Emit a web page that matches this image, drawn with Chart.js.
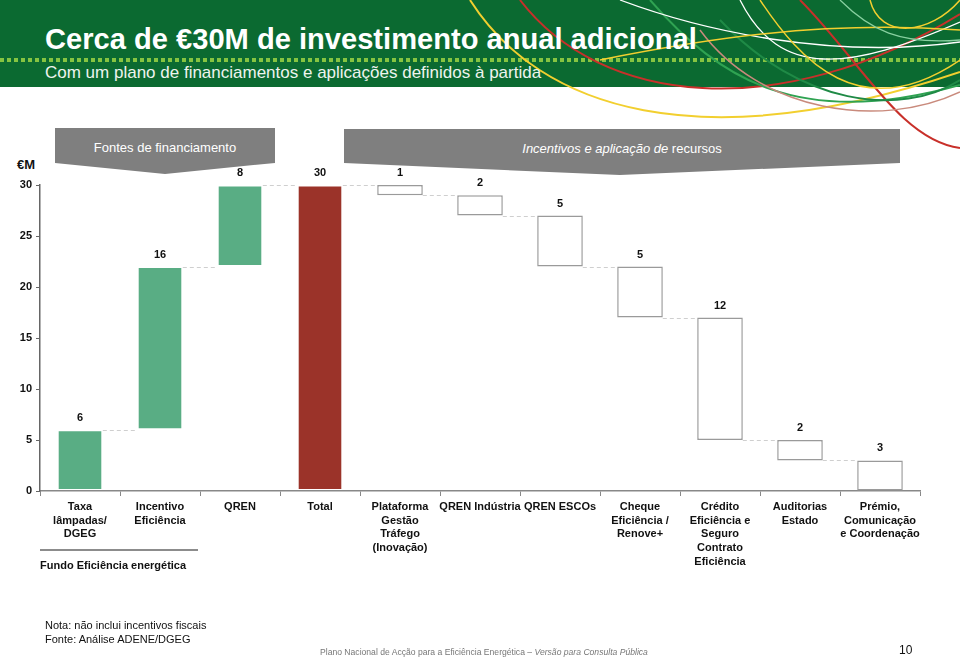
<!DOCTYPE html>
<html>
<head>
<meta charset="utf-8">
<script src="https://cdn.jsdelivr.net/npm/chart.js@4"></script>
<style>
  html, body { margin: 0; padding: 0; background: #fff; }
  body { width: 960px; height: 659px; position: relative; overflow: hidden; font-family: "Liberation Sans", Arial, sans-serif; }
  #header { position: absolute; left: 0; top: 0; width: 960px; height: 87px; background: #0b6a31; }
  #deco { position: absolute; left: 0; top: 0; width: 960px; height: 160px; }
  #dots { position: absolute; left: 0; top: 58px; width: 960px; height: 4px;
          background: repeating-linear-gradient(90deg, #86c441 0 4px, transparent 4px 7px); }
  #title { position: absolute; left: 45px; top: 22px; color: #fff; font-weight: bold; font-size: 30px;
           white-space: nowrap; transform-origin: left top; transform: scaleX(0.97); }
  #subtitle { position: absolute; left: 45px; top: 63px; color: #eef4ee; font-size: 17px;
              white-space: nowrap; }
  .chev { position: absolute; background: #7f7f7f; color: #fff; font-size: 13px; text-align: center; line-height: 40px; }
  #chev1 { left: 55px; top: 128px; width: 220px; height: 46px;
           clip-path: polygon(0 0, 100% 0, 100% 76%, 50% 100%, 0 76%); }
  #chev2 { left: 344px; top: 129px; width: 556px; height: 46px;
           clip-path: polygon(0 0, 100% 0, 100% 74%, 49.6% 100%, 0 74%); }
  #unit { position: absolute; left: 17px; top: 157px; font-weight: bold; font-size: 13px; color: #111; }
  #chartBox { position: absolute; left: 0; top: 0; width: 960px; height: 659px; }
  #note { position: absolute; left: 45px; top: 618px; font-size: 11px; line-height: 14px; color: #111; }
  #foot { position: absolute; left: 320px; top: 647px; font-size: 8.6px; color: #777; white-space: nowrap; }
  #page { position: absolute; left: 899px; top: 643px; font-size: 12px; color: #111; }
</style>
</head>
<body>
<div id="header"></div>
<div id="dots"></div>
<svg id="deco" viewBox="0 0 960 160" fill="none" stroke-width="2">
  <path d="M470 0 C540 110 700 160 960 72" stroke="#f2cf2f"/>
  <path d="M520 0 C600 105 780 125 960 14" stroke="#c8302a"/>
  <path d="M800 0 C860 60 900 140 960 148" stroke="#c8302a"/>
  <path d="M650 0 C720 80 800 130 960 85" stroke="#2fa352"/>
  <path d="M720 20 C800 105 900 118 960 80" stroke="#1f8a46"/>
  <path d="M740 0 C780 80 850 70 960 22" stroke="#ffffff" stroke-width="1.3"/>
  <path d="M620 0 C700 30 830 60 960 42" stroke="#ffffff" stroke-width="1.3"/>
  <path d="M760 0 C800 60 860 128 960 60" stroke="#f2cf2f" stroke-width="1.5"/>
  <path d="M700 30 C760 112 880 130 960 92" stroke="#c98a7c" stroke-width="1.5"/>
  <path d="M870 0 C880 40 930 35 960 0" stroke="#f2cf2f" stroke-width="1.5"/>
  <path d="M600 60 C700 40 820 20 960 30" stroke="#f2cf2f" stroke-width="1.5"/>
  <path d="M840 0 C870 30 900 45 960 40" stroke="#88d0a0" stroke-width="1.3"/>
</svg>
<div id="title">Cerca de €30M de investimento anual adicional</div>
<div id="subtitle">Com um plano de financiamentos e aplicações definidos à partida</div>
<div class="chev" id="chev1">Fontes de financiamento</div>
<div class="chev" id="chev2"><i>Incentivos e aplicação de</i> recursos</div>
<div id="unit">€M</div>
<div id="chartBox"><canvas id="waterfall"></canvas></div>
<div id="note">Nota: não inclui incentivos fiscais<br>Fonte: Análise ADENE/DGEG</div>
<div id="foot">Plano Nacional de Acção para a Eficiência Energética – <i>Versão para Consulta Pública</i></div>
<div id="page">10</div>

<script>
// --------------------
// Data
// --------------------
const categories = [
    ['Taxa', 'lâmpadas/', 'DGEG'],
    ['Incentivo', 'Eficiência'],
    ['QREN'],
    ['Total'],
    ['Plataforma', 'Gestão', 'Tráfego', '(Inovação)'],
    ['QREN Indústria'],
    ['QREN ESCOs'],
    ['Cheque', 'Eficiência /', 'Renove+'],
    ['Crédito', 'Eficiência e', 'Seguro', 'Contrato', 'Eficiência'],
    ['Auditorias', 'Estado'],
    ['Prémio,', 'Comunicação', 'e Coordenação']
];
const values = [6, 16, 8, 30, 1, 2, 5, 5, 12, 2, 3];
const kinds = ['up', 'up', 'up', 'total', 'down', 'down', 'down', 'down', 'down', 'down', 'down'];
const yTicks = [0, 5, 10, 15, 20, 25, 30];
const groupLabel = 'Fundo Eficiência energética';

// build floating ranges + connector levels from the values
const ranges = [];
const levels = [];
let running = 0;
values.forEach((v, i) => {
    if (kinds[i] === 'up') {
        ranges.push([running, running + v]);
        running += v;
    } else if (kinds[i] === 'total') {
        ranges.push([0, v]);
        running = v;
    } else {
        ranges.push([running - v, running]);
        running -= v;
    }
    levels.push(running);
});

const fillColors = kinds.map(k => k === 'up' ? '#59ad84' : k === 'total' ? '#9b3329' : '#ffffff');
const borderColors = kinds.map(k => k === 'down' ? '#9a9a9a' : 'rgba(0,0,0,0)');

// --------------------
// Extra drawing: connectors, value labels, group label
// --------------------
const waterfallExtras = {
    id: 'waterfallExtras',
    afterDatasetsDraw(chart) {
        const ctx = chart.ctx;
        const meta = chart.getDatasetMeta(0);
        const y = chart.scales.y;

        // dashed connectors
        ctx.save();
        ctx.strokeStyle = '#cfcfcf';
        ctx.lineWidth = 1;
        ctx.setLineDash([4, 3]);
        for (let i = 0; i < meta.data.length - 1; i++) {
            const a = meta.data[i], b = meta.data[i + 1];
            const py = Math.round(y.getPixelForValue(levels[i])) + 0.5;
            ctx.beginPath();
            ctx.moveTo(a.x + a.width / 2, py);
            ctx.lineTo(b.x - b.width / 2, py);
            ctx.stroke();
        }
        ctx.restore();

        // value labels
        ctx.save();
        ctx.fillStyle = '#111';
        ctx.font = 'bold 11px "Liberation Sans", Arial, sans-serif';
        ctx.textAlign = 'center';
        ctx.textBaseline = 'middle';
        meta.data.forEach((bar, i) => {
            const top = y.getPixelForValue(ranges[i][1]);
            ctx.fillText(String(values[i]), bar.x, top - 12);
        });
        ctx.restore();
    },
    afterDraw(chart) {
        const ctx = chart.ctx;
        const x = chart.scales.x;
        const left = x.left;
        const right = x.getPixelForValue(1) + (x.getPixelForValue(1) - x.getPixelForValue(0)) / 2 - 2;
        ctx.save();
        ctx.strokeStyle = '#8c8c8c';
        ctx.lineWidth = 2;
        ctx.beginPath();
        ctx.moveTo(left, 550);
        ctx.lineTo(right, 550);
        ctx.stroke();
        ctx.fillStyle = '#111';
        ctx.font = 'bold 11px "Liberation Sans", Arial, sans-serif';
        ctx.textAlign = 'left';
        ctx.textBaseline = 'middle';
        ctx.fillText(groupLabel, left, 566);
        ctx.restore();
    }
};

new Chart(document.getElementById('waterfall'), {
    type: 'bar',
    data: {
        labels: categories,
        datasets: [{
            data: ranges,
            backgroundColor: fillColors,
            borderColor: borderColors,
            borderWidth: 1.5,
            borderSkipped: false,
            categoryPercentage: 1,
            barPercentage: 0.57
        }]
    },
    options: {
        responsive: true,
        maintainAspectRatio: false,
        animation: false,
        layout: { padding: { top: 185, right: 40, left: 0, bottom: 0 } },
        plugins: {
            legend: { display: false },
            tooltip: { enabled: false }
        },
        scales: {
            x: {
                afterFit: scale => { scale.height = 168; },
                grid: { drawOnChartArea: false, drawTicks: true, tickLength: 5, color: '#888', offset: true },
                border: { color: '#888', width: 1.5 },
                ticks: {
                    color: '#111',
                    padding: 4,
                    maxRotation: 0,
                    autoSkip: false,
                    font: { family: '"Liberation Sans", Arial, sans-serif', size: 11, weight: 'bold', lineHeight: 1.25 }
                }
            },
            y: {
                min: 0,
                max: 30,
                afterFit: scale => { scale.width = 40; },
                afterBuildTicks: scale => { scale.ticks = yTicks.map(v => ({ value: v })); },
                grid: { drawOnChartArea: false, drawTicks: true, tickLength: 4, color: '#666' },
                border: { color: '#666', width: 1.5 },
                ticks: {
                    color: '#111',
                    padding: 4,
                    font: { family: '"Liberation Sans", Arial, sans-serif', size: 11, weight: 'bold' }
                }
            }
        }
    },
    plugins: [waterfallExtras]
});
</script>
</body>
</html>
